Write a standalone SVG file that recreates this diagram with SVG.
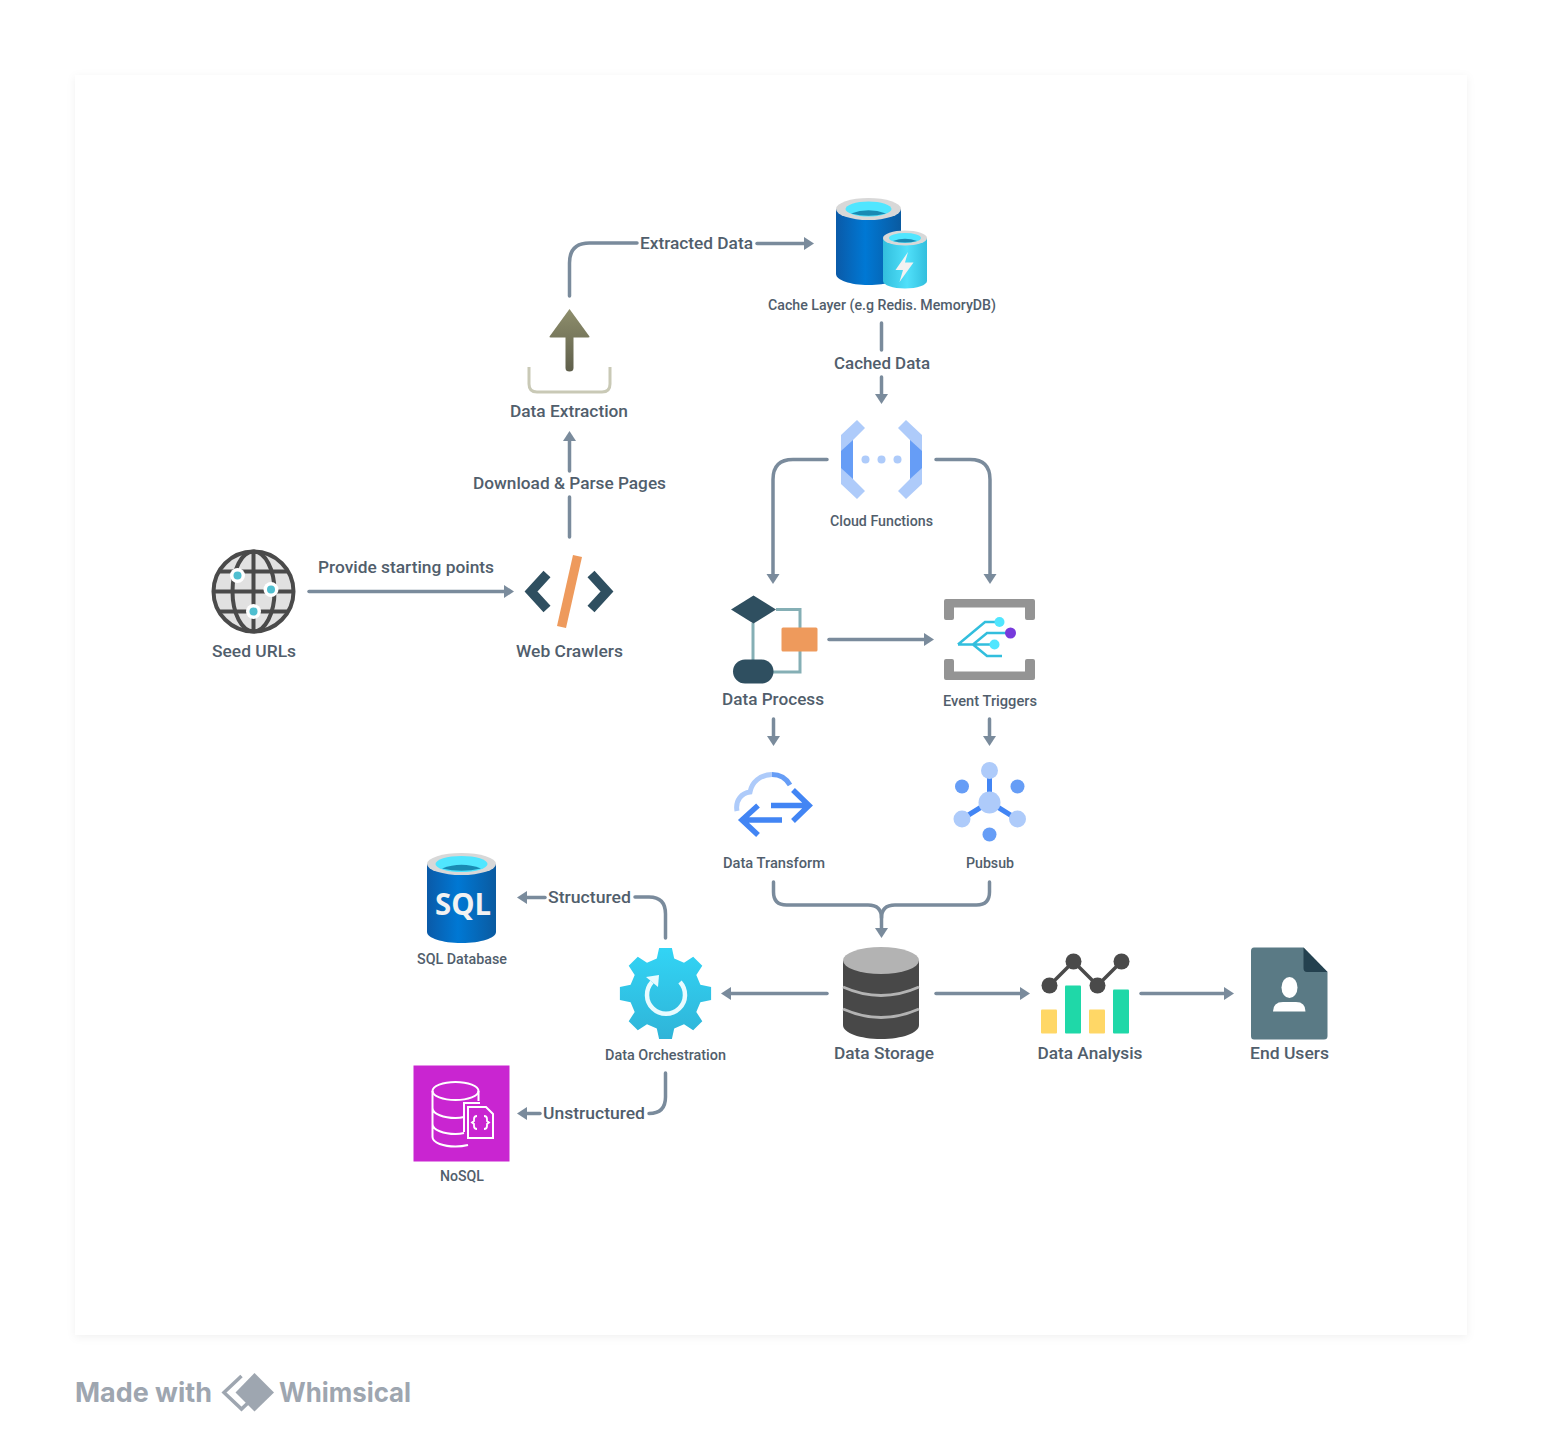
<svg xmlns="http://www.w3.org/2000/svg" width="1543" height="1449" viewBox="0 0 1543 1449">
<style>
.l{font-family:"Roboto","Liberation Sans",sans-serif;font-weight:500;fill:#515e6c;text-anchor:middle;font-size:17px}
.s{font-size:14.5px}
.c{fill:none;stroke:#7a8b9c;stroke-width:3.500;stroke-linecap:round}
.a{marker-end:url(#ah)}
.f{font-family:"Inter","Liberation Sans",sans-serif;font-weight:700;fill:#9ea6b0;font-size:27px}
</style>
<defs>
<marker id="ah" markerUnits="userSpaceOnUse" markerWidth="13" markerHeight="16" refX="4" refY="7.500" orient="auto"><path d="M0,1 L10,7.500 L0,14z" fill="#7a8b9c"/></marker>
<filter id="sh" x="-5%" y="-5%" width="110%" height="110%"><feDropShadow dx="0" dy="2" stdDeviation="4" flood-color="#000" flood-opacity="0.06"/></filter>
<linearGradient id="big" x1="0" x2="1" y1="0" y2="0"><stop offset="0" stop-color="#0a5aa8"/><stop offset=".45" stop-color="#0078d4"/><stop offset="1" stop-color="#0a5aa0"/></linearGradient>
<linearGradient id="small" x1="0" x2="1" y1="0" y2="0"><stop offset="0" stop-color="#32bedd"/><stop offset=".55" stop-color="#50e0fa"/><stop offset="1" stop-color="#32bedd"/></linearGradient>
<linearGradient id="olive" x1="0" x2="0" y1="0" y2="1"><stop offset="0" stop-color="#8e8e6c"/><stop offset="1" stop-color="#5f5f4b"/></linearGradient>
<linearGradient id="gear" x1="0" x2="0" y1="0" y2="1"><stop offset="0" stop-color="#32d4f5"/><stop offset="1" stop-color="#2fb4d8"/></linearGradient>
</defs>
<rect width="1543" height="1449" fill="#fff"/>
<rect x="75" y="75" width="1392" height="1260" fill="#fff" filter="url(#sh)"/>

<g id="connectors">
<path class="c a" d="M309 591.500H508"/>
<path class="c" d="M569.500 537V497"/>
<path class="c a" d="M569.500 471V437"/>
<path class="c" d="M569.500 296V263Q569.500 243 589.500 243H637"/>
<path class="c a" d="M757 243.500H808"/>
<path class="c" d="M881.500 323V350"/>
<path class="c a" d="M881.500 377V398"/>
<path class="c a" d="M827 459.500H793Q773 459.500 773 479.500V578"/>
<path class="c a" d="M936 459.500H970Q990 459.500 990 479.500V578"/>
<path class="c a" d="M829 639.500H928"/>
<path class="c a" d="M773.500 719V740"/>
<path class="c a" d="M989.500 719V740"/>
<path class="c a" d="M773.500 882V892Q773.500 905 786.500 905H868Q881.500 905 881.500 918V932"/>
<path class="c" d="M989.500 882V892Q989.500 905 976.500 905H895Q881.500 905 881.500 918"/>
<path class="c a" d="M827 993.500H727"/>
<path class="c a" d="M936 993.500H1024"/>
<path class="c a" d="M1141 993.500H1228"/>
<path class="c" d="M665.500 938V914Q665.500 897 649 897H635"/>
<path class="c a" d="M545 897.500H523"/>
<path class="c" d="M665.500 1073V1097Q665.500 1113.500 649 1113.500"/>
<path class="c a" d="M540 1113.500H523"/>
<text class="l" x="406" y="573" textLength="176" lengthAdjust="spacingAndGlyphs">Provide starting points</text>
<text class="l" x="569.500" y="489" textLength="193" lengthAdjust="spacingAndGlyphs">Download &amp; Parse Pages</text>
<text class="l" x="696.500" y="249" textLength="113" lengthAdjust="spacingAndGlyphs">Extracted Data</text>
<text class="l" x="882" y="369" textLength="96" lengthAdjust="spacingAndGlyphs">Cached Data</text>
<text class="l" x="589.500" y="903" textLength="83" lengthAdjust="spacingAndGlyphs">Structured</text>
<text class="l" x="594" y="1119" textLength="102" lengthAdjust="spacingAndGlyphs">Unstructured</text>
</g>

<g id="seed-urls">
<circle cx="253.500" cy="591.500" r="40" fill="#e1e1e1" stroke="#4a4a4a" stroke-width="4"/>
<g fill="none" stroke="#4a4a4a" stroke-width="4"><ellipse cx="253.500" cy="591.500" rx="21" ry="40"/><path d="M253.500 551V632M214 591.500H293M220 571.500H287M220 611.500H287"/></g>
<circle cx="237.500" cy="575.500" r="7.500" fill="#fff"/><circle cx="237.500" cy="575.500" r="4" fill="#4fbfd0"/>
<circle cx="271" cy="589.500" r="7.500" fill="#fff"/><circle cx="271" cy="589.500" r="4" fill="#4fbfd0"/>
<circle cx="253.500" cy="611.500" r="7.500" fill="#fff"/><circle cx="253.500" cy="611.500" r="4" fill="#4fbfd0"/>
<text class="l" x="254" y="657" textLength="84" lengthAdjust="spacingAndGlyphs">Seed URLs</text>
</g>

<g id="web-crawlers">
<path d="M547 574L531 591.500L547 609M591 574L607 591.500L591 609" fill="none" stroke="#2f4f60" stroke-width="9.500"/>
<path d="M573 555L582 557L566 628L557 626z" fill="#ee9a5c"/>
<text class="l" x="569.500" y="657" textLength="107" lengthAdjust="spacingAndGlyphs">Web Crawlers</text>
</g>

<g id="data-extraction">
<path d="M569.500 309L589.500 336.500Q590 337.500 588 337.500H573.500V368Q573.500 371.500 569.500 371.500Q565.500 371.500 565.500 368V337.500H551Q549 337.500 549.500 336.500z" fill="url(#olive)"/>
<path d="M529 367V384Q529 392 537 392H602Q610 392 610 384V367" fill="none" stroke="#c9c9b6" stroke-width="3"/>
<text class="l" x="569" y="417" textLength="118" lengthAdjust="spacingAndGlyphs">Data Extraction</text>
</g>

<g id="cache-layer">
<path d="M836 209V274C836 280 850 285 868.500 285S901 280 901 274V209z" fill="url(#big)"/>
<ellipse cx="868.500" cy="209" rx="32.500" ry="11" fill="#d8d8d8"/>
<ellipse cx="868.500" cy="209" rx="23" ry="7.500" fill="#50e6ff"/>
<path d="M851 213.500Q868.500 207 886 213.500Q868.500 218 851 213.500z" fill="#198ab3"/>
<path d="M883 238V281C883 285 893 288.500 905 288.500S927 285 927 281V238z" fill="url(#small)"/>
<ellipse cx="905" cy="238" rx="22" ry="7.500" fill="#d8d8d8"/>
<ellipse cx="905" cy="238" rx="16" ry="5" fill="#50e6ff"/>
<path d="M893 241Q905 236.500 917 241Q905 244 893 241z" fill="#198ab3"/>
<path d="M908 252L895.500 270H903L899.500 282L913.500 262.500H905z" fill="#f2f2f2"/>
<text class="l s" x="882" y="310" textLength="228" lengthAdjust="spacingAndGlyphs">Cache Layer (e.g Redis. MemoryDB)</text>
</g>

<g id="cloud-functions">
<path d="M857 420L865 428L853 440V479L865 491L857 499L841 484V435z" fill="#aecbfa"/>
<path d="M853 440L841 451V468L853 479z" fill="#669df6"/>
<path d="M906 420L898 428L910 440V479L898 491L906 499L922 484V435z" fill="#aecbfa"/>
<path d="M910 440L922 451V468L910 479z" fill="#669df6"/>
<circle cx="865.500" cy="459.500" r="4" fill="#aecbfa"/><circle cx="881.500" cy="459.500" r="4" fill="#aecbfa"/><circle cx="897.500" cy="459.500" r="4" fill="#aecbfa"/>
<text class="l s" x="881.500" y="526" textLength="103" lengthAdjust="spacingAndGlyphs">Cloud Functions</text>
</g>

<g id="data-process">
<path d="M776 609.500H800V672H773M753 623V660" fill="none" stroke="#85afb5" stroke-width="3"/>
<path d="M753.500 595.500L776 609.500L753.500 623.500L731 609.500z" fill="#2f4f60"/>
<rect x="781.500" y="627.500" width="36" height="24" rx="1.500" fill="#ee9a5c"/>
<rect x="733" y="659.500" width="40.500" height="24" rx="12" fill="#2f4f60"/>
<text class="l" x="773" y="705" textLength="102" lengthAdjust="spacingAndGlyphs">Data Process</text>
</g>

<g id="event-triggers">
<path d="M946 599H1033Q1035 599 1035 601V618Q1035 620 1033 620H1027Q1025 620 1025 618V607.500H954V618Q954 620 952 620H946Q944 620 944 618V601Q944 599 946 599z" fill="#949494"/>
<path d="M946 680H1033Q1035 680 1035 678V661Q1035 659 1033 659H1027Q1025 659 1025 661V671.500H954V661Q954 659 952 659H946Q944 659 944 661V678Q944 680 946 680z" fill="#949494"/>
<path d="M958 644.500H995M958 644.500L985 622H997M973 644.500L987 633H1006M973 644.500L987 656H1002" fill="none" stroke="#32bedd" stroke-width="2.500"/>
<circle cx="999.500" cy="622" r="5" fill="#50e6ff"/><circle cx="1010.500" cy="633" r="5.500" fill="#773adc"/><circle cx="994.500" cy="644.500" r="5" fill="#50e6ff"/>
<text class="l s" x="990" y="706" textLength="94" lengthAdjust="spacingAndGlyphs">Event Triggers</text>
</g>

<g id="data-transform">
<path d="M737 811C735 800 742 793 750 792C752 782 760 775 772 774.500" fill="none" stroke="#aecbfa" stroke-width="5"/>
<path d="M772 774.500C780 774.500 786 778 790 785" fill="none" stroke="#669df6" stroke-width="5"/>
<path d="M771 805.500H806M793 790L809 805.500L793 821M782 820H745M758 805.500L742 820L758 835" fill="none" stroke="#4285f4" stroke-width="5.500"/>
<text class="l s" x="774" y="868" textLength="102" lengthAdjust="spacingAndGlyphs">Data Transform</text>
</g>

<g id="pubsub">
<path d="M989.500 770V802L962 819M989.500 802L1017 819" fill="none" stroke="#4285f4" stroke-width="5"/>
<circle cx="989.500" cy="802.500" r="11" fill="#aecbfa"/>
<circle cx="989.500" cy="770.500" r="8.500" fill="#aecbfa"/><circle cx="962" cy="819" r="8.500" fill="#aecbfa"/><circle cx="1017.500" cy="819" r="8.500" fill="#aecbfa"/>
<circle cx="962" cy="786.500" r="7" fill="#669df6"/><circle cx="1017.500" cy="786.500" r="7" fill="#669df6"/><circle cx="989.500" cy="834.500" r="7" fill="#669df6"/>
<text class="l s" x="990" y="868" textLength="48" lengthAdjust="spacingAndGlyphs">Pubsub</text>
</g>

<g id="sql-database">
<path d="M427 864V932C427 938 442 943 461.500 943S496 938 496 932V864z" fill="url(#big)"/>
<ellipse cx="461.500" cy="864" rx="34.500" ry="11" fill="#d8d8d8"/>
<ellipse cx="461.500" cy="864" rx="26" ry="8" fill="#50e6ff"/>
<path d="M442 868.500Q461.500 861 481 868.500Q461.500 873 442 868.500z" fill="#198ab3"/>
<text x="463" y="915" font-family="'Open Sans','Liberation Sans',sans-serif" font-weight="700" font-size="31" fill="#f2f2f2" text-anchor="middle" textLength="56" lengthAdjust="spacingAndGlyphs">SQL</text>
<text class="l s" x="462" y="964" textLength="90" lengthAdjust="spacingAndGlyphs">SQL Database</text>
</g>

<g id="data-orchestration">
<polygon transform="translate(665.500 993.500)" fill="url(#gear)" points="-8.700,-34.900 -6.400,-45.600 6.400,-45.600 8.700,-34.900 18.500,-30.800 27.700,-36.800 36.800,-27.700 30.800,-18.500 34.900,-8.700 45.600,-6.400 45.600,6.400 34.900,8.700 30.800,18.500 36.800,27.700 27.700,36.800 18.500,30.800 8.700,34.900 6.400,45.600 -6.400,45.600 -8.700,34.900 -18.500,30.800 -27.700,36.800 -36.800,27.700 -30.800,18.500 -34.900,8.700 -45.600,6.400 -45.600,-6.400 -34.900,-8.700 -30.800,-18.500 -36.800,-27.700 -27.700,-36.800 -18.500,-30.800"/>
<path d="M680 982A19 19 0 1 1 652 982" fill="none" stroke="#e8fbff" stroke-width="4.500"/>
<path d="M646 977L659 975L658 987z" fill="#e8fbff"/>
<text class="l s" x="665.500" y="1060" textLength="121" lengthAdjust="spacingAndGlyphs">Data Orchestration</text>
</g>

<g id="nosql">
<rect x="413.500" y="1065.500" width="96" height="96" fill="#c925d1"/>
<g fill="none" stroke="#fff" stroke-width="2">
<ellipse cx="455.500" cy="1091" rx="23" ry="9"/>
<path d="M432.500 1091V1137C432.500 1143 444 1146.500 455.500 1146.500Q462 1146.500 468 1145M432.500 1108C432.500 1114 444 1118 455.500 1118Q460 1118 464 1117M432.500 1124C432.500 1130 444 1134 455.500 1134Q460 1134 464 1133M478.500 1091V1101"/>
<path d="M464 1132V1103H480"/>
<path d="M468 1107H486L493 1114V1138H468z"/>
<path d="M477 1116Q474 1116 474 1119V1121L472 1122.500L474 1124V1126Q474 1129 477 1129M484 1116Q487 1116 487 1119V1121L489 1122.500L487 1124V1126Q487 1129 484 1129" stroke-width="1.800"/>
</g>
<text class="l s" x="462" y="1181" textLength="44" lengthAdjust="spacingAndGlyphs">NoSQL</text>
</g>

<g id="data-storage">
<path d="M843 961V1025C843 1033 860 1039 881 1039S919 1033 919 1025V961z" fill="#484848"/>
<ellipse cx="881" cy="960.500" rx="38" ry="13.500" fill="#b3b3b3"/>
<path d="M843 987Q881 1004 919 987M843 1009Q881 1026 919 1009" fill="none" stroke="#b3b3b3" stroke-width="3"/>
<text class="l" x="884" y="1059" textLength="100" lengthAdjust="spacingAndGlyphs">Data Storage</text>
</g>

<g id="data-analysis">
<rect x="1041" y="1009.500" width="16" height="24" rx="1" fill="#ffd766"/>
<rect x="1065" y="985.500" width="16" height="48" rx="1" fill="#1fd8a8"/>
<rect x="1089" y="1009.500" width="16" height="24" rx="1" fill="#ffd766"/>
<rect x="1113" y="989.500" width="16" height="44" rx="1" fill="#1fd8a8"/>
<path d="M1049.500 985.500L1073.500 961.500L1097.500 985.500L1121.500 961.500" fill="none" stroke="#4a4a4a" stroke-width="3.500"/>
<circle cx="1049.500" cy="985.500" r="8" fill="#4a4a4a"/><circle cx="1073.500" cy="961.500" r="8" fill="#4a4a4a"/><circle cx="1097.500" cy="985.500" r="8" fill="#4a4a4a"/><circle cx="1121.500" cy="961.500" r="8" fill="#4a4a4a"/>
<text class="l" x="1090" y="1059" textLength="105" lengthAdjust="spacingAndGlyphs">Data Analysis</text>
</g>

<g id="end-users">
<path d="M1254 947.500H1303.500L1327.500 972V1036Q1327.500 1039.500 1324 1039.500H1254Q1251 1039.500 1251 1036V951Q1251 947.500 1254 947.500z" fill="#5a7a85"/>
<path d="M1303.500 947.500L1327.500 972H1307Q1303.500 972 1303.500 968z" fill="#24414f"/>
<ellipse cx="1289.500" cy="987.500" rx="8" ry="10.500" fill="#fff"/>
<path d="M1273 1011.500Q1273 1002 1283 1002H1296Q1305.500 1002 1305.500 1011.500z" fill="#fff"/>
<text class="l" x="1289.500" y="1059" textLength="79" lengthAdjust="spacingAndGlyphs">End Users</text>
</g>

<g id="whimsical-footer">
<text class="f" x="75" y="1402" textLength="137" lengthAdjust="spacingAndGlyphs">Made with</text>
<path d="M241.500 1376L224 1392.500L241.500 1409L250 1401" fill="none" stroke="#9ea6b0" stroke-width="3.500"/>
<path d="M254.500 1373L274 1392.500L254.500 1411.500L235.500 1392.500z" fill="#9ea6b0"/>
<text class="f" x="279" y="1402" textLength="132" lengthAdjust="spacingAndGlyphs">Whimsical</text>
</g>
</svg>
